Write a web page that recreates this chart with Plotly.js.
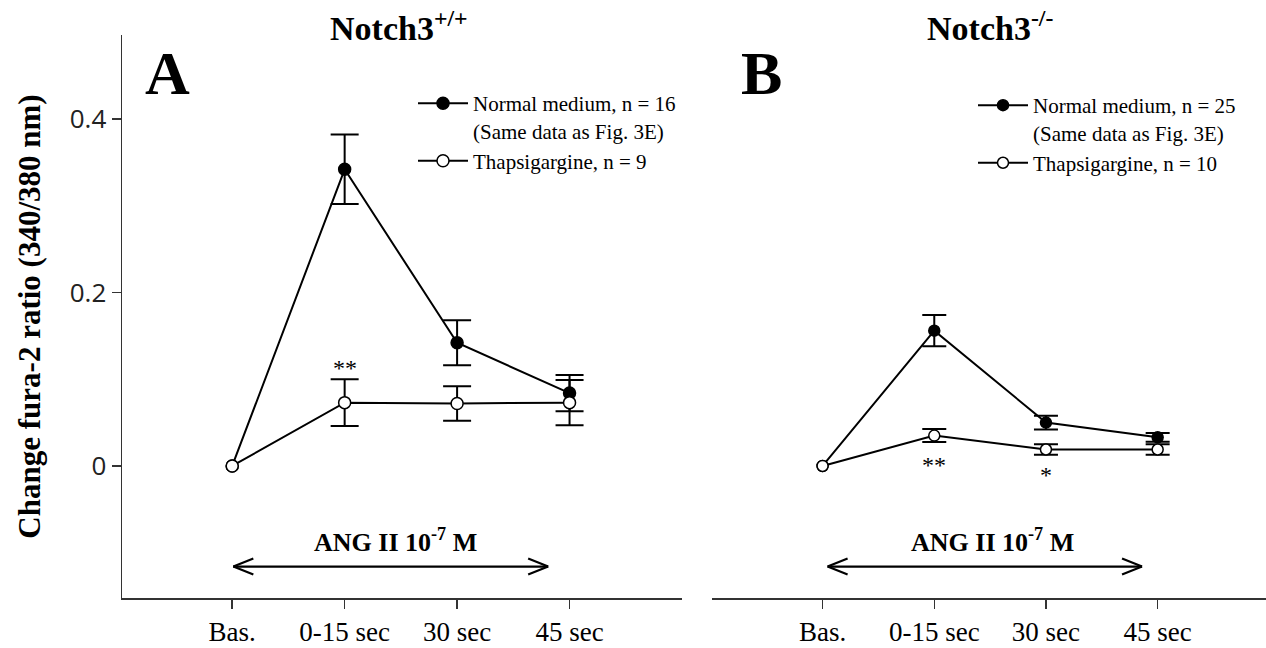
<!DOCTYPE html>
<html>
<head>
<meta charset="utf-8">
<script src="https://cdn.plot.ly/plotly-3.0.1.min.js"></script>
<style>
  html, body { margin: 0; padding: 0; background: #fff; }
  #chart { width: 1266px; height: 648px; }
</style>
</head>
<body>
<div id="chart"></div>
<script>
// ---------- data ----------
const categories = ['Bas.', '0-15 sec', '30 sec', '45 sec'];

const wtNormal    = [0, 0.342, 0.142, 0.084];
const wtNormalErr = [NaN, 0.040, 0.026, 0.021];
const wtThap      = [0, 0.073, 0.072, 0.073];
const wtThapErr   = [NaN, 0.027, 0.020, 0.026];

const koNormal    = [0, 0.156, 0.050, 0.033];
const koNormalErr = [NaN, 0.018, 0.008, 0.005];
const koThap      = [0, 0.035, 0.019, 0.019];
const koThapErr   = [NaN, 0.0075, 0.006, 0.006];

const yTickVals = [0, 0.2, 0.4];
const yTickText = ['0', '0.2', '0.4'];

const wtLegend = ['Normal medium, n = 16<br>(Same data as Fig. 3E)', 'Thapsigargine, n = 9'];
const koLegend = ['Normal medium, n = 25<br>(Same data as Fig. 3E)', 'Thapsigargine, n = 10'];

// ---------- helpers ----------
const W = 1266, H = 648;
const M = {l: 122, r: 0, t: 35, b: 50};
const PW = W - M.l - M.r, PH = H - M.t - M.b;
const px = x => (x - M.l) / PW;
const py = y => (H - M.b - y) / PH;

const serif = 'Liberation Serif, Times New Roman, serif';

function series(x, y, err, name, filled, xa, legend, msize, capw) {
  return {
    type: 'scatter', mode: 'lines+markers',
    x: x, y: y, name: name, xaxis: xa, yaxis: 'y', legend: legend,
    line: {color: '#000', width: 2},
    marker: {size: msize, color: filled ? '#000' : '#fff', line: {color: '#000', width: 1.5}},
    error_y: {type: 'data', array: err, visible: true, color: '#000', thickness: 2, width: capw},
    cliponaxis: false
  };
}

const data = [
  series(categories, wtNormal, wtNormalErr, wtLegend[0], true,  'x',  'legend',  12, 14),
  series(categories, wtThap,   wtThapErr,   wtLegend[1], false, 'x',  'legend',  12, 14),
  series(categories, koNormal, koNormalErr, koLegend[0], true,  'x2', 'legend2', 11, 12),
  series(categories, koThap,   koThapErr,   koLegend[1], false, 'x2', 'legend2', 11, 12)
];

const axisCommon = {
  type: 'category', showgrid: false, zeroline: false, showline: true,
  linecolor: '#333', linewidth: 1.5, ticks: 'outside', ticklen: 9, tickwidth: 1.5, tickcolor: '#333',
  tickfont: {family: serif, size: 27, color: '#000'}, fixedrange: true
};

function arrow(xref, x0, x1, yv) {
  const s = {type: 'line', xref: xref, yref: 'y', line: {color: '#000', width: 2.2}};
  const head = (xa, dx, dy) => Object.assign({}, s, {
    xsizemode: 'pixel', ysizemode: 'pixel', xanchor: xa, yanchor: yv,
    x0: 0, x1: dx, y0: 0, y1: dy
  });
  return [
    Object.assign({}, s, {x0: x0, x1: x1, y0: yv, y1: yv}),
    head(x0, 20, 8), head(x0, 20, -8),
    head(x1, -20, 8), head(x1, -20, -8)
  ];
}

const legendCommon = {
  font: {family: serif, size: 21, color: '#000'}, bgcolor: 'rgba(0,0,0,0)',
  xanchor: 'left', yanchor: 'top', valign: 'top', itemwidth: 50, tracegroupgap: 0
};

const layout = {
  width: W, height: H,
  margin: M,
  paper_bgcolor: '#fff', plot_bgcolor: '#fff',
  showlegend: true,
  xaxis: Object.assign({}, axisCommon, {domain: [0, 560 / PW], range: [-0.98, 4.0], anchor: 'y'}),
  xaxis2: Object.assign({}, axisCommon, {domain: [590 / PW, 1], range: [-0.99, 3.97], anchor: 'y'}),
  yaxis: {
    domain: [0, 1], range: [-0.1522, 0.4968], showgrid: false, zeroline: false,
    showline: true, linecolor: '#333', linewidth: 1.5,
    ticks: 'outside', ticklen: 9, tickwidth: 1.5, tickcolor: '#333',
    tickvals: yTickVals, ticktext: yTickText,
    tickfont: {family: 'Open Sans, sans-serif', size: 26, color: '#222'},
    title: {text: 'Change fura-2 ratio (340/380 nm)', standoff: 20,
            font: {family: serif, size: 31, color: '#000', weight: 'bold'}},
    fixedrange: true
  },
  legend: Object.assign({}, legendCommon, {x: px(413), y: py(83)}),
  legend2: Object.assign({}, legendCommon, {x: px(973), y: py(85)}),
  shapes: [].concat(arrow('x', 0.01, 2.81, -0.116), arrow('x2', 0.045, 2.86, -0.116)),
  annotations: [
    {xref: 'paper', yref: 'paper', x: px(399), y: py(26), text: 'Notch3<sup>+/+</sup>', showarrow: false,
     font: {family: serif, size: 34, color: '#000', weight: 'bold'}, xanchor: 'center', yanchor: 'middle'},
    {xref: 'paper', yref: 'paper', x: px(990), y: py(26), text: 'Notch3<sup>-/-</sup>', showarrow: false,
     font: {family: serif, size: 34, color: '#000', weight: 'bold'}, xanchor: 'center', yanchor: 'middle'},
    {xref: 'paper', yref: 'paper', x: px(167), y: py(73), text: 'A', showarrow: false,
     font: {family: serif, size: 62, color: '#000', weight: 'bold'}, xanchor: 'center', yanchor: 'middle'},
    {xref: 'paper', yref: 'paper', x: px(761), y: py(73), text: 'B', showarrow: false,
     font: {family: serif, size: 62, color: '#000', weight: 'bold'}, xanchor: 'center', yanchor: 'middle'},
    {xref: 'x', yref: 'y', x: 1.45, y: -0.086, text: 'ANG II 10<sup>-7</sup> M', showarrow: false,
     font: {family: serif, size: 26, color: '#000', weight: 'bold'}, xanchor: 'center', yanchor: 'middle'},
    {xref: 'x2', yref: 'y', x: 1.52, y: -0.086, text: 'ANG II 10<sup>-7</sup> M', showarrow: false,
     font: {family: serif, size: 26, color: '#000', weight: 'bold'}, xanchor: 'center', yanchor: 'middle'},
    {xref: 'x', yref: 'y', x: 1, y: 0.113, text: '**', showarrow: false,
     font: {family: serif, size: 24, color: '#000'}, xanchor: 'center', yanchor: 'middle'},
    {xref: 'x2', yref: 'y', x: 1, y: 0.001, text: '**', showarrow: false,
     font: {family: serif, size: 24, color: '#000'}, xanchor: 'center', yanchor: 'middle'},
    {xref: 'x2', yref: 'y', x: 2, y: -0.010, text: '*', showarrow: false,
     font: {family: serif, size: 24, color: '#000'}, xanchor: 'center', yanchor: 'middle'}
  ]
};

Plotly.newPlot('chart', data, layout, {staticPlot: true, displayModeBar: false});
</script>
</body>
</html>
